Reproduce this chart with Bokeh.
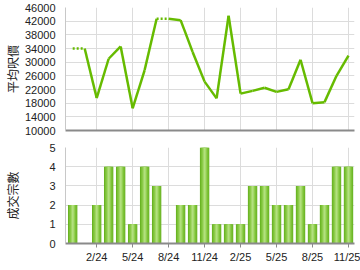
import math
from bokeh.plotting import figure
from bokeh.layouts import column
from bokeh.models import Range1d, FixedTicker, ColumnDataSource
from bokeh.embed import file_html
from bokeh.resources import INLINE

months = ["12/23", "1/24", "2/24", "3/24", "4/24", "5/24", "6/24", "7/24", "8/24", "9/24",
          "10/24", "11/24", "12/24", "1/25", "2/25", "3/25", "4/25", "5/25", "6/25", "7/25",
          "8/25", "9/25", "10/25", "11/25"]
avg_price = [34000, None, 19500, 31000, 34600, 16500, 27700, 42700, None, 42300,
             33000, 24300, 19400, 43600, 20800, 21600, 22500, 21300, 22100, 30700,
             18000, 18300, 26000, 31900]
deals = [2, 0, 2, 4, 4, 1, 4, 3, 0, 2, 2, 5, 1, 1, 1, 3, 3, 2, 2, 3, 1, 2, 4, 4]
tick_months = ["2/24", "5/24", "8/24", "11/24", "2/25", "5/25", "8/25", "11/25"]
price_ticks = [10000, 14000, 18000, 22000, 26000, 30000, 34000, 38000, 42000, 46000]
deal_ticks = [0, 1, 2, 3, 4, 5]

xs = list(range(len(months)))
tick_pos = [months.index(m) for m in tick_months]
overrides = {i: m for i, m in zip(tick_pos, tick_months)}

# carry forward price for months without deals
filled = []
last = None
for v in avg_price:
    if v is None:
        filled.append(last)
    else:
        filled.append(v)
        last = v

GREEN = "#66bb00"
FONT = "Liberation Sans"
CJK = "Noto Sans CJK TC"
GRID = "#dcdcdc"

def style(p, yticks, label, label_standoff):
    p.outline_line_color = None
    p.xgrid.ticker = FixedTicker(ticks=tick_pos)
    p.xgrid.grid_line_color = GRID
    p.ygrid.grid_line_color = GRID
    p.yaxis.ticker = FixedTicker(ticks=yticks)
    p.yaxis.major_tick_out = 0
    p.yaxis.major_tick_in = 0
    p.yaxis.minor_tick_line_color = None
    p.xaxis.minor_tick_line_color = None
    p.yaxis.axis_line_color = "#c8c8c8"
    p.yaxis.major_label_standoff = 10
    p.yaxis.major_label_text_font = FONT
    p.yaxis.major_label_text_font_size = "11px"
    p.yaxis.major_label_text_color = "#222222"
    p.yaxis.axis_label = label
    p.yaxis.axis_label_text_font = CJK
    p.yaxis.axis_label_text_font_size = "12px"
    p.yaxis.axis_label_text_font_style = "normal"
    p.yaxis.axis_label_text_color = "#222222"
    p.yaxis.axis_label_standoff = label_standoff
    p.xaxis.axis_line_color = "#8a8a8a"
    p.xaxis.axis_line_width = 2
    p.background_fill_color = "white"
    p.border_fill_color = "white"

# Top: average price line
top = figure(width=360, height=135, output_backend="svg", toolbar_location=None,
             x_range=Range1d(-0.6, 23.5), y_range=Range1d(10000, 46000),
             min_border_left=65, min_border_right=6, min_border_top=7, min_border_bottom=5)
style(top, price_ticks, "平均呎價", 1)
top.xaxis.ticker = FixedTicker(ticks=[])
top.xaxis.major_tick_out = 0
top.xaxis.major_tick_in = 0
top.xaxis.major_label_standoff = 0

# solid segments between months, dotted where a month has no deals
for i in range(len(xs) - 1):
    dotted = avg_price[i + 1] is None
    top.line([xs[i], xs[i + 1]], [filled[i], filled[i + 1]], line_color=GREEN,
             line_width=2.5, line_dash="2 2" if dotted else "solid",
             line_join="round", line_cap="butt")

# Bottom: deals bars
bottom = figure(width=360, height=135, output_backend="svg", toolbar_location=None,
                x_range=Range1d(-0.6, 23.5), y_range=Range1d(0, 5),
                min_border_left=65, min_border_right=6, min_border_top=12, min_border_bottom=27)
style(bottom, deal_ticks, "成交宗數", 25)
bottom.xaxis.ticker = FixedTicker(ticks=tick_pos)
bottom.xaxis.major_label_overrides = overrides
bottom.xaxis.major_tick_out = 4
bottom.xaxis.major_tick_in = 0
bottom.xaxis.major_tick_line_color = "#8a8a8a"
bottom.xaxis.major_label_standoff = 3
bottom.xaxis.major_label_text_font = FONT
bottom.xaxis.major_label_text_font_size = "11px"
bottom.xaxis.major_label_text_color = "#222222"

src = ColumnDataSource(dict(x=xs, top=deals))
bottom.vbar(x="x", top="top", width=0.78, source=src, fill_color="#62ad1c", line_color=None)
bottom.vbar(x="x", top="top", width=0.66, source=src, fill_color="#7cc236", line_color=None)
bottom.vbar(x="x", top="top", width=0.36, source=src, fill_color="#98d258", line_color=None)
bottom.vbar(x="x", top="top", width=0.16, source=src, fill_color="#b2e07e", line_color=None)

layout = column(top, bottom, spacing=0)
open("out.html", "w").write(file_html(layout, INLINE))
